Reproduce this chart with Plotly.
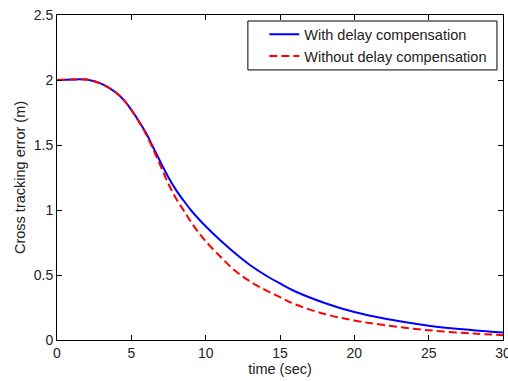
import plotly.graph_objects as go

t_with = [0, 1, 1.5, 2, 2.5, 3, 3.5, 4, 4.5, 5, 5.5, 6, 6.5, 7, 7.5, 8, 8.5, 9, 9.5, 10,
          11, 12, 13, 14, 15, 16, 18, 20, 22, 25, 28, 30]
y_with = [2.0, 2.003, 2.006, 2.003, 1.99, 1.97, 1.94, 1.90, 1.845, 1.77, 1.685, 1.59, 1.475,
          1.36, 1.25, 1.155, 1.075, 1.0, 0.935, 0.875, 0.765, 0.665, 0.575, 0.50, 0.435,
          0.375, 0.285, 0.215, 0.165, 0.11, 0.075, 0.057]

t_without = [0, 1, 1.5, 2, 2.5, 3, 3.5, 4, 4.5, 5, 5.5, 6, 6.5, 7, 7.5, 8, 8.5, 9, 9.5, 10,
             11, 12, 13, 14, 15, 16, 18, 20, 22, 25, 28, 30]
y_without = [2.0, 2.003, 2.006, 2.003, 1.99, 1.97, 1.94, 1.90, 1.845, 1.77, 1.68, 1.58, 1.46,
             1.33, 1.20, 1.09, 1.0, 0.91, 0.83, 0.76, 0.64, 0.53, 0.45, 0.385, 0.33,
             0.275, 0.20, 0.15, 0.115, 0.075, 0.05, 0.037]

x_ticks = [0, 5, 10, 15, 20, 25, 30]
y_ticks = [0, 0.5, 1, 1.5, 2, 2.5]
y_tick_labels = ["0", "0.5", "1", "1.5", "2", "2.5"]

FONT = "Liberation Sans, Arial"
TXT = "#222"

fig = go.Figure()
fig.add_trace(go.Scatter(x=t_with, y=y_with, mode="lines", name="With delay compensation",
                         line=dict(color="#0000FF", width=2, shape="spline")))
fig.add_trace(go.Scatter(x=t_without, y=y_without, mode="lines", name="Without delay compensation",
                         line=dict(color="#FF0000", width=2, dash="8px,4px", shape="spline")))

axis_common = dict(showgrid=False, zeroline=False, showline=True, linecolor="black", linewidth=1,
                   mirror="ticks", ticks="inside", ticklen=5, tickcolor="black", automargin=False,
                   tickfont=dict(family=FONT, size=14, color=TXT))

fig.update_xaxes(range=[0, 30], tickvals=x_ticks, ticktext=[str(v) for v in x_ticks],
                 ticklabeloverflow="allow",
                 title=dict(text="time (sec)", font=dict(family=FONT, size=14.5, color=TXT),
                            standoff=1), **axis_common)
fig.update_yaxes(range=[0, 2.5], tickvals=y_ticks, ticktext=y_tick_labels,
                 title=dict(text="Cross tracking error (m)", font=dict(family=FONT, size=14.5, color=TXT),
                            standoff=4), **axis_common)

# legend frame (MATLAB-style, wider on the left than plotly's own border)
fig.add_shape(type="rect", xref="paper", yref="paper",
              x0=0.428, x1=0.9865, y0=0.831, y1=0.9815,
              line=dict(color="black", width=1), fillcolor="white", layer="above")

fig.update_layout(
    width=508, height=381,
    margin=dict(l=57, r=5, t=15, b=41),
    paper_bgcolor="white", plot_bgcolor="white",
    showlegend=True,
    legend=dict(x=0.976, y=0.99, xanchor="right", yanchor="top",
                bgcolor="rgba(0,0,0,0)", borderwidth=0,
                font=dict(family=FONT, size=14.5, color=TXT),
                tracegroupgap=0, itemwidth=30),
)

fig.write_html("out.html")
